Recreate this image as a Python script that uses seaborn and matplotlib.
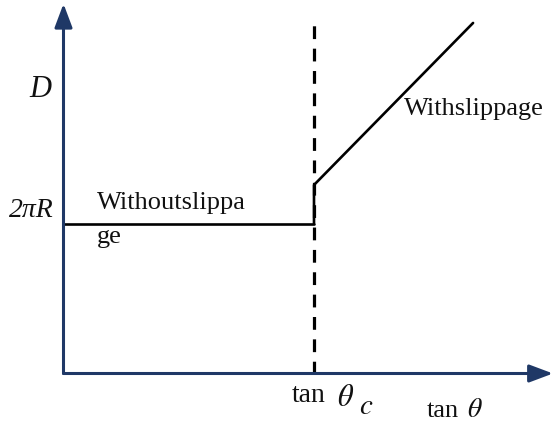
import matplotlib
matplotlib.use("Agg")
import matplotlib.pyplot as plt
import seaborn as sns
import pandas as pd

# ---- data (normalised units: tan(theta_c) = 1, 2*pi*R = 1) ----
tan_theta_c = 1.0
without_x = [0.0, 1.0]
without_D = [1.0, 1.0]
with_x = [1.0, 1.0, 1.635]
with_D = [1.0, 1.257, 2.337]
dash_D = [0.0, 2.343]
x_axis_end = 1.954
y_axis_end = 2.465

sns.set_theme(style="white")
plt.rcParams['font.family'] = ['Liberation Serif', 'DejaVu Serif']
plt.rcParams['mathtext.fontset'] = 'stix'

W, H = 554, 423
fig = plt.figure(figsize=(W / 100, H / 100), dpi=100)
ax = fig.add_axes([0, 0, 1, 1])
ox, oy, sx, sy = 63.5, 373.5, 250.5, 150.0

def px(x, y):
    return ((x - ox) / sx, (oy - y) / sy)

axis_col = "#1F3866"
ax.annotate("", xy=(x_axis_end, 0), xytext=(0, 0), annotation_clip=False,
            arrowprops=dict(arrowstyle="-|>,head_length=1.2,head_width=0.45",
                            color=axis_col, lw=2.2, shrinkA=0, shrinkB=0))
ax.annotate("", xy=(0, y_axis_end), xytext=(0, 0), annotation_clip=False,
            arrowprops=dict(arrowstyle="-|>,head_length=1.2,head_width=0.45",
                            color=axis_col, lw=2.2, shrinkA=0, shrinkB=0))

df1 = pd.DataFrame({"x": without_x, "D": without_D})
df2 = pd.DataFrame({"x": with_x, "D": with_D})
df3 = pd.DataFrame({"x": [tan_theta_c, tan_theta_c], "D": dash_D})
sns.lineplot(data=df1, x="x", y="D", ax=ax, color="black", lw=1.9,
             sort=False, estimator=None)
sns.lineplot(data=df2, x="x", y="D", ax=ax, color="black", lw=1.9,
             sort=False, estimator=None)
sns.lineplot(data=df3, x="x", y="D", ax=ax, color="black", lw=2.3,
             sort=False, estimator=None)
ax.lines[-1].set_dashes((4.0, 3.0))
ax.set_xlim(-ox / sx, (W - ox) / sx)
ax.set_ylim((oy - H) / sy, oy / sy)
ax.axis('off')

tc = "#111111"
fs = 19
ax.text(*px(40, 97), "D", fontsize=22, fontstyle='italic', color=tc, ha='center', va='baseline')
ax.text(*px(31, 217), "2πR", fontsize=20, fontstyle='italic', color=tc, ha='center', va='baseline')
ax.text(*px(97, 209), "Withoutslippa", fontsize=fs, color=tc, ha='left', va='baseline')
ax.text(*px(97, 243), "ge", fontsize=fs, color=tc, ha='left', va='baseline')
ax.text(*px(404, 115), "Withslippage", fontsize=fs, color=tc, ha='left', va='baseline')
ax.text(*px(292, 402), "tan", fontsize=20, color=tc, ha='left', va='baseline')
ax.text(*px(337, 406), r"$\theta$", fontsize=22, color=tc, ha='left', va='baseline')
ax.text(*px(359, 414), r"$c$", fontsize=21, color=tc, ha='left', va='baseline')
ax.text(*px(427, 417), "tan", fontsize=19, color=tc, ha='left', va='baseline')
ax.text(*px(467, 417), r"$\theta$", fontsize=20, color=tc, ha='left', va='baseline')

fig.savefig("out.png", dpi=100)
